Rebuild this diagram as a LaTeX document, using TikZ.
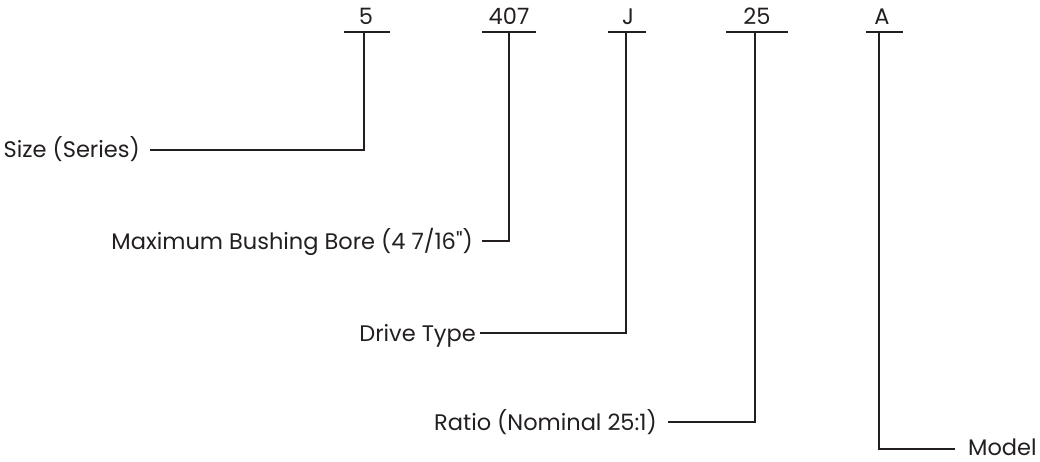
\documentclass[tikz,border=0pt]{standalone}
\usepackage{fontspec}
\newfontfamily\lblfont{Poppins}
\definecolor{ink}{HTML}{231F20}
\begin{document}
\begin{tikzpicture}[x=1pt,y=-1pt,
  txt/.style={inner sep=0pt,font=\lblfont\fontsize{22.5}{26}\selectfont,text=ink},
  code/.style={txt,anchor=base},
  lbl/.style={txt,anchor=base east},
  lbll/.style={txt,anchor=base west},
  ln/.style={draw=ink,line width=2.4pt}]
\useasboundingbox (0,0) rectangle (1040,462);
% top codes
\node[code] (c1) at (366,25) {5};
\node[code] (c2) at (509,25) {407};
\node[code] (c3) at (628,25) {J};
\node[code] (c4) at (757,25) {25};
\node[code] (c5) at (882,25) {A};
% bars
\draw[ln] (344,32) -- (390,32);
\draw[ln] (482,32) -- (536,32);
\draw[ln] (608,32) -- (646,32);
\draw[ln] (726,32) -- (788,32);
\draw[ln] (866,32) -- (903,32);
\coordinate (t1) at (364,32);
\coordinate (t2) at (509,32);
\coordinate (t3) at (626,32);
\coordinate (t4) at (755,32);
\coordinate (t5) at (879,32);
% labels
\node[lbl] (l1) at (140,158) {Size (Series)};
\node[lbl] (l2) at (473,249) {Maximum Bushing Bore (4 7/16")};
\node[lbl] (l3) at (476,341) {Drive Type};
\node[lbl] (l4) at (657,430) {Ratio (Nominal 25:1)};
\node[lbll] (l5) at (968,455) {Model};
% connectors
\draw[ln] (l1.east |- 0,150) ++(10,0) -- (t1 |- 0,150) -- (t1);
\draw[ln] (l2.east |- 0,241) ++(9,0) -- (t2 |- 0,241) -- (t2);
\draw[ln] (l3.east |- 0,333) ++(4,0) -- (t3 |- 0,333) -- (t3);
\draw[ln] (l4.east |- 0,422) ++(11,0) -- (t4 |- 0,422) -- (t4);
\draw[ln] (l5.west |- 0,449) ++(-13,0) -- (t5 |- 0,449) -- (t5);
\end{tikzpicture}
\end{document}
